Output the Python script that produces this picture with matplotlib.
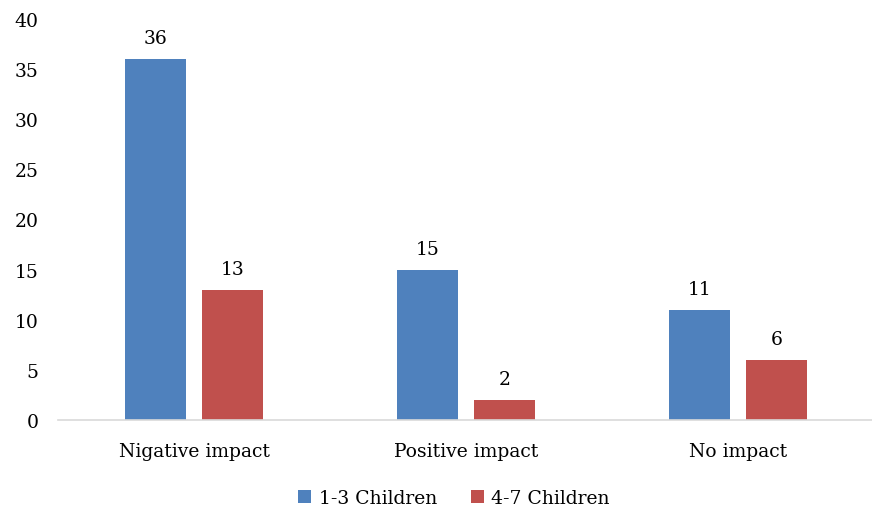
import matplotlib
matplotlib.use("Agg")
import matplotlib.pyplot as plt
import numpy as np

categories = ["Nigative impact", "Positive impact", "No impact"]
series_names = ["1-3 Children", "4-7 Children"]
children_1_3 = [36, 15, 11]
children_4_7 = [13, 2, 6]
y_ticks = [0, 5, 10, 15, 20, 25, 30, 35, 40]

colors = ["#4F81BD", "#C0504D"]
plt.rcParams["font.family"] = ["DejaVu Serif"]
fs = 13.5

fig = plt.figure(figsize=(8.72, 5.10), dpi=100)
ax = fig.add_axes([58 / 872, 1 - 421 / 510, 816 / 872, 401 / 510])

x = np.arange(len(categories))
width = 0.224
offset = 0.1415
for vals, off, col, name in zip([children_1_3, children_4_7], [-offset, offset], colors, series_names):
    bars = ax.bar(x + off, vals, width, color=col, label=name, zorder=2)
    for b, v in zip(bars, vals):
        ax.text(b.get_x() + b.get_width() / 2, v + 1.2, str(v), ha="center", va="bottom",
                fontsize=fs, color="#000000")

ax.set_xlim(-0.5, 2.5)
ax.set_ylim(0, 40)
ax.set_yticks(y_ticks)
ax.set_xticks(x)
ax.set_xticklabels(categories)
ax.tick_params(axis="both", length=0, labelsize=fs, colors="#000000")
ax.tick_params(axis="y", pad=14)
ax.tick_params(axis="x", pad=16)
for s in ["top", "right", "left"]:
    ax.spines[s].set_visible(False)
ax.spines["bottom"].set_color("#D9D9D9")
ax.spines["bottom"].set_linewidth(1.2)

ax.legend(loc="center", bbox_to_anchor=(0.5 - 12 / 816, -(499 - 421) / 401), ncol=2, frameon=False,
          fontsize=fs, handlelength=0.7, handleheight=0.7, columnspacing=1.8, handletextpad=0.4)

fig.savefig("out.png", dpi=100)
